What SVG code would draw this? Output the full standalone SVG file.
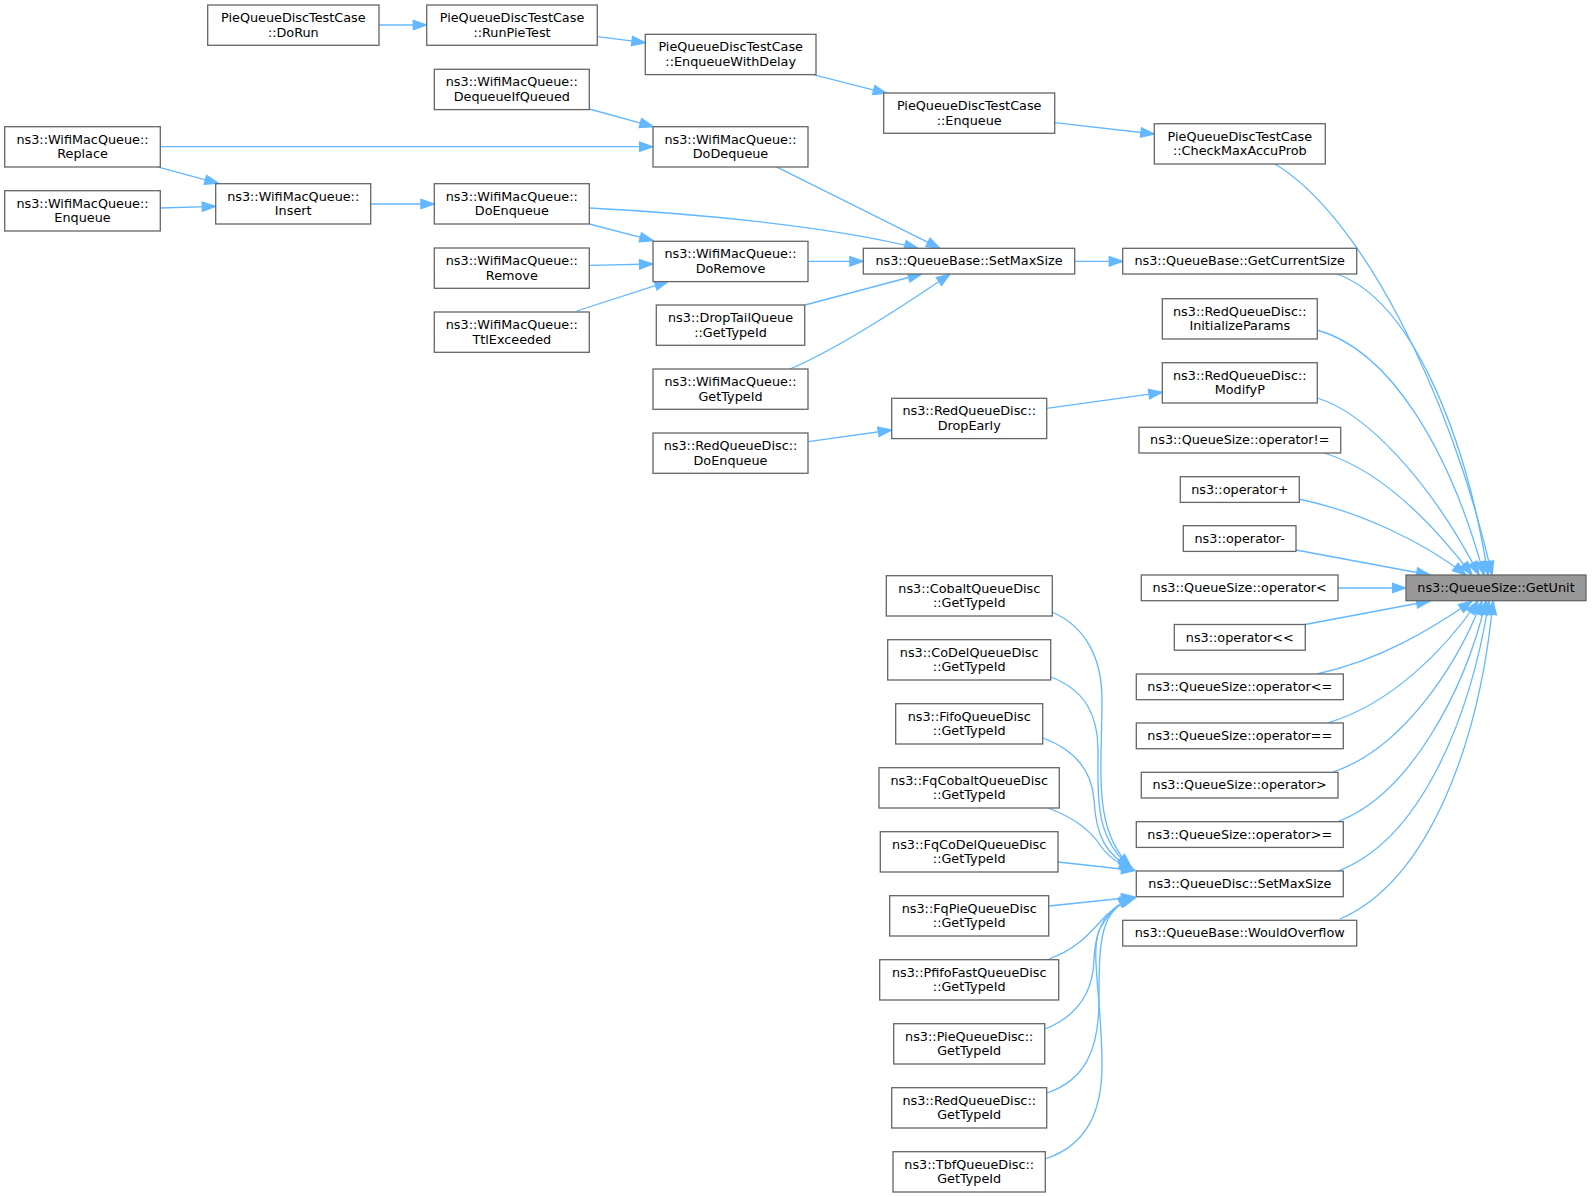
<svg xmlns="http://www.w3.org/2000/svg" width="1592" height="1197" viewBox="0 0 1592 1197">
<style>
.n rect{fill:#ffffff;stroke:#666666;stroke-width:1.3}
.n.hl rect{fill:#999999}
.n text{font-family:"DejaVu Sans",Verdana,sans-serif;font-size:12.8px;text-anchor:middle;fill:#000000}
#edges path{fill:none;stroke:#63b8ff;stroke-width:1.3;marker-end:url(#a)}
</style>
<defs>
<marker id="a" viewBox="0 0 13.4 9.4" refX="13.4" refY="4.7" markerWidth="13.4" markerHeight="9.4" markerUnits="userSpaceOnUse" orient="auto" overflow="visible">
<path d="M0,0 L13.4,4.7 L0,9.4 Z" fill="#63b8ff" stroke="#63b8ff" stroke-width="1.3"/>
</marker>
</defs>
<rect width="1592" height="1197" fill="#ffffff"/>
<g id="edges">
<path d="M379,25 L426.7,25"/>
<path d="M597.3,36.7 L645.3,42.7"/>
<path d="M813.3,74.7 L886.7,93.3"/>
<path d="M1054.7,122.7 L1154.3,134"/>
<path d="M1275,164 C1360,215 1450,390 1492,575"/>
<path d="M589.3,109 L653.3,126.7"/>
<path d="M160.3,146.7 L653,146.7"/>
<path d="M156.7,166.7 L218.3,183.3"/>
<path d="M160.3,208 L215.7,206.3"/>
<path d="M370.7,204 L434.3,204"/>
<path d="M776,166.7 L940,248.3"/>
<path d="M589.3,208 C690,213 830,226 918,248.3"/>
<path d="M589.3,224 L653.3,240.7"/>
<path d="M589.3,265.3 L653,264"/>
<path d="M576.7,311 L668.3,281.3"/>
<path d="M808,261.3 L863.3,261.3"/>
<path d="M805,305 L921.7,274"/>
<path d="M790,369 C830,352 890,315 950,274"/>
<path d="M1074.7,261.3 L1122.7,261.3"/>
<path d="M1337,274 C1410,300 1465,430 1488,575"/>
<path d="M1317,330 C1390,350 1450,450 1484,575"/>
<path d="M1317,398 C1365,412 1430,480 1479,575"/>
<path d="M1046.7,408.3 L1162.3,392.3"/>
<path d="M808.3,441.7 L891.7,430"/>
<path d="M1324,453 C1380,470 1430,520 1472,575"/>
<path d="M1299,499 C1360,512 1420,540 1466,575"/>
<path d="M1296,550 L1430,575"/>
<path d="M1338,588 L1406,588"/>
<path d="M1305,624.5 L1430,601"/>
<path d="M1317,674 C1380,660 1430,630 1472,601"/>
<path d="M1327,723 C1390,705 1445,650 1478,601"/>
<path d="M1333,772 C1400,750 1455,670 1482,601"/>
<path d="M1337,822 C1410,795 1465,690 1486,601"/>
<path d="M1338,871 C1420,840 1470,720 1489,601"/>
<path d="M1340,919 C1430,880 1480,740 1493,601"/>
<path d="M1052,612 C1087,627 1102,660 1102,700 C1102,770 1092,830 1131,867"/>
<path d="M1051,677 C1085,690 1098,715 1098,750 C1098,800 1095,840 1132,868"/>
<path d="M1043,738 C1075,750 1092,770 1094,800 C1096,835 1105,855 1133,869"/>
<path d="M1048,808 C1075,818 1090,830 1100,845 C1108,857 1118,864 1134,870"/>
<path d="M1058,862 L1135,870.5"/>
<path d="M1049,906 L1135,897"/>
<path d="M1049,959 C1075,950 1088,935 1100,922 C1110,910 1120,903 1135,898"/>
<path d="M1045,1029 C1080,1015 1093,990 1094,960 C1095,925 1110,905 1134,898"/>
<path d="M1047,1093 C1085,1080 1099,1050 1099,1000 C1099,940 1100,910 1133,898"/>
<path d="M1045,1159 C1088,1145 1102,1110 1102,1065 C1102,995 1088,945 1102,925 C1110,912 1120,903 1132,897"/>
</g>
<g id="n1" class="n"><rect x="207.7" y="5" width="171.3" height="40.3"/><text x="293.3" y="22">PieQueueDiscTestCase</text><text x="293.3" y="36.5">::DoRun</text></g>
<g id="n2" class="n"><rect x="426.7" y="5" width="170.6" height="40.3"/><text x="512" y="22">PieQueueDiscTestCase</text><text x="512" y="36.5">::RunPieTest</text></g>
<g id="n3" class="n"><rect x="645.3" y="34.3" width="170.7" height="40.3"/><text x="730.7" y="51.3">PieQueueDiscTestCase</text><text x="730.7" y="65.8">::EnqueueWithDelay</text></g>
<g id="n4" class="n"><rect x="883.7" y="93" width="171" height="40.3"/><text x="969.2" y="110">PieQueueDiscTestCase</text><text x="969.2" y="124.5">::Enqueue</text></g>
<g id="n5" class="n"><rect x="1154.3" y="123.7" width="171" height="40.3"/><text x="1239.8" y="140.7">PieQueueDiscTestCase</text><text x="1239.8" y="155.2">::CheckMaxAccuProb</text></g>
<g id="n6" class="n"><rect x="434.3" y="69.3" width="155" height="40.3"/><text x="511.8" y="86.3">ns3::WifiMacQueue::</text><text x="511.8" y="100.8">DequeueIfQueued</text></g>
<g id="n7" class="n"><rect x="4.7" y="126.7" width="155.6" height="40.3"/><text x="82.5" y="143.7">ns3::WifiMacQueue::</text><text x="82.5" y="158.2">Replace</text></g>
<g id="n8" class="n"><rect x="653" y="126.7" width="155" height="40.3"/><text x="730.5" y="143.7">ns3::WifiMacQueue::</text><text x="730.5" y="158.2">DoDequeue</text></g>
<g id="n9" class="n"><rect x="4.7" y="190.7" width="155.6" height="40.3"/><text x="82.5" y="207.7">ns3::WifiMacQueue::</text><text x="82.5" y="222.2">Enqueue</text></g>
<g id="n10" class="n"><rect x="215.7" y="183.7" width="155" height="40.3"/><text x="293.2" y="200.7">ns3::WifiMacQueue::</text><text x="293.2" y="215.2">Insert</text></g>
<g id="n11" class="n"><rect x="434.3" y="183.7" width="155" height="40.3"/><text x="511.8" y="200.7">ns3::WifiMacQueue::</text><text x="511.8" y="215.2">DoEnqueue</text></g>
<g id="n12" class="n"><rect x="653" y="241.3" width="155" height="40.3"/><text x="730.5" y="258.3">ns3::WifiMacQueue::</text><text x="730.5" y="272.8">DoRemove</text></g>
<g id="n13" class="n"><rect x="434.3" y="248" width="155" height="40.3"/><text x="511.8" y="265">ns3::WifiMacQueue::</text><text x="511.8" y="279.5">Remove</text></g>
<g id="n14" class="n"><rect x="434.3" y="312" width="155" height="40.3"/><text x="511.8" y="329">ns3::WifiMacQueue::</text><text x="511.8" y="343.5">TtlExceeded</text></g>
<g id="n15" class="n"><rect x="656.3" y="305" width="148.4" height="40.3"/><text x="730.5" y="322">ns3::DropTailQueue</text><text x="730.5" y="336.5">::GetTypeId</text></g>
<g id="n16" class="n"><rect x="653" y="369" width="155" height="40.3"/><text x="730.5" y="386">ns3::WifiMacQueue::</text><text x="730.5" y="400.5">GetTypeId</text></g>
<g id="n17" class="n"><rect x="653" y="433" width="155" height="40.3"/><text x="730.5" y="450">ns3::RedQueueDisc::</text><text x="730.5" y="464.5">DoEnqueue</text></g>
<g id="n18" class="n"><rect x="863.3" y="248.3" width="211.4" height="25.7"/><text x="969" y="265.3">ns3::QueueBase::SetMaxSize</text></g>
<g id="n19" class="n"><rect x="1122.7" y="248.3" width="234" height="25.7"/><text x="1239.7" y="265.3">ns3::QueueBase::GetCurrentSize</text></g>
<g id="n20" class="n"><rect x="1162.3" y="298.7" width="155" height="40.3"/><text x="1239.8" y="315.7">ns3::RedQueueDisc::</text><text x="1239.8" y="330.2">InitializeParams</text></g>
<g id="n21" class="n"><rect x="1162.3" y="362.7" width="155" height="40.3"/><text x="1239.8" y="379.7">ns3::RedQueueDisc::</text><text x="1239.8" y="394.2">ModifyP</text></g>
<g id="n22" class="n"><rect x="891.7" y="398.3" width="155" height="40.3"/><text x="969.2" y="415.3">ns3::RedQueueDisc::</text><text x="969.2" y="429.8">DropEarly</text></g>
<g id="n23" class="n"><rect x="1139" y="427.3" width="201.7" height="25.7"/><text x="1239.8" y="444.3">ns3::QueueSize::operator!=</text></g>
<g id="n24" class="n"><rect x="1180.3" y="476.7" width="119" height="25.7"/><text x="1239.8" y="493.7">ns3::operator+</text></g>
<g id="n25" class="n"><rect x="1183.3" y="525.7" width="112.7" height="25.7"/><text x="1239.7" y="542.7">ns3::operator-</text></g>
<g id="n26" class="n"><rect x="1141.3" y="575" width="196.7" height="25.7"/><text x="1239.7" y="592">ns3::QueueSize::operator&lt;</text></g>
<g id="n27" class="n hl"><rect x="1406" y="575" width="180" height="25.7"/><text x="1496" y="592">ns3::QueueSize::GetUnit</text></g>
<g id="n28" class="n"><rect x="1174.3" y="624.5" width="131" height="25.7"/><text x="1239.8" y="641.5">ns3::operator&lt;&lt;</text></g>
<g id="n29" class="n"><rect x="1136.3" y="674" width="207" height="25.7"/><text x="1239.8" y="691">ns3::QueueSize::operator&lt;=</text></g>
<g id="n30" class="n"><rect x="1136.3" y="723" width="207" height="25.7"/><text x="1239.8" y="740">ns3::QueueSize::operator==</text></g>
<g id="n31" class="n"><rect x="1141.3" y="772.3" width="196.7" height="25.7"/><text x="1239.7" y="789.3">ns3::QueueSize::operator&gt;</text></g>
<g id="n32" class="n"><rect x="1136.3" y="821.7" width="207" height="25.7"/><text x="1239.8" y="838.7">ns3::QueueSize::operator&gt;=</text></g>
<g id="n33" class="n"><rect x="1136.3" y="871" width="207" height="25.7"/><text x="1239.8" y="888">ns3::QueueDisc::SetMaxSize</text></g>
<g id="n34" class="n"><rect x="1122.7" y="920.3" width="234" height="25.7"/><text x="1239.7" y="937.3">ns3::QueueBase::WouldOverflow</text></g>
<g id="n35" class="n"><rect x="886.3" y="575.7" width="166" height="40.3"/><text x="969.3" y="592.7">ns3::CobaltQueueDisc</text><text x="969.3" y="607.2">::GetTypeId</text></g>
<g id="n36" class="n"><rect x="887.7" y="639.7" width="163" height="40.3"/><text x="969.2" y="656.7">ns3::CoDelQueueDisc</text><text x="969.2" y="671.2">::GetTypeId</text></g>
<g id="n37" class="n"><rect x="895.7" y="703.7" width="147" height="40.3"/><text x="969.2" y="720.7">ns3::FifoQueueDisc</text><text x="969.2" y="735.2">::GetTypeId</text></g>
<g id="n38" class="n"><rect x="879" y="767.7" width="180.3" height="40.3"/><text x="969.2" y="784.7">ns3::FqCobaltQueueDisc</text><text x="969.2" y="799.2">::GetTypeId</text></g>
<g id="n39" class="n"><rect x="880.3" y="831.7" width="177.7" height="40.3"/><text x="969.2" y="848.7">ns3::FqCoDelQueueDisc</text><text x="969.2" y="863.2">::GetTypeId</text></g>
<g id="n40" class="n"><rect x="889.7" y="895.7" width="159" height="40.3"/><text x="969.2" y="912.7">ns3::FqPieQueueDisc</text><text x="969.2" y="927.2">::GetTypeId</text></g>
<g id="n41" class="n"><rect x="879.7" y="959.7" width="179" height="40.3"/><text x="969.2" y="976.7">ns3::PfifoFastQueueDisc</text><text x="969.2" y="991.2">::GetTypeId</text></g>
<g id="n42" class="n"><rect x="893.7" y="1023.7" width="151" height="40.3"/><text x="969.2" y="1040.7">ns3::PieQueueDisc::</text><text x="969.2" y="1055.2">GetTypeId</text></g>
<g id="n43" class="n"><rect x="891.7" y="1087.7" width="155" height="40.3"/><text x="969.2" y="1104.7">ns3::RedQueueDisc::</text><text x="969.2" y="1119.2">GetTypeId</text></g>
<g id="n44" class="n"><rect x="893" y="1151.7" width="152.3" height="40.3"/><text x="969.2" y="1168.7">ns3::TbfQueueDisc::</text><text x="969.2" y="1183.2">GetTypeId</text></g>
</svg>
